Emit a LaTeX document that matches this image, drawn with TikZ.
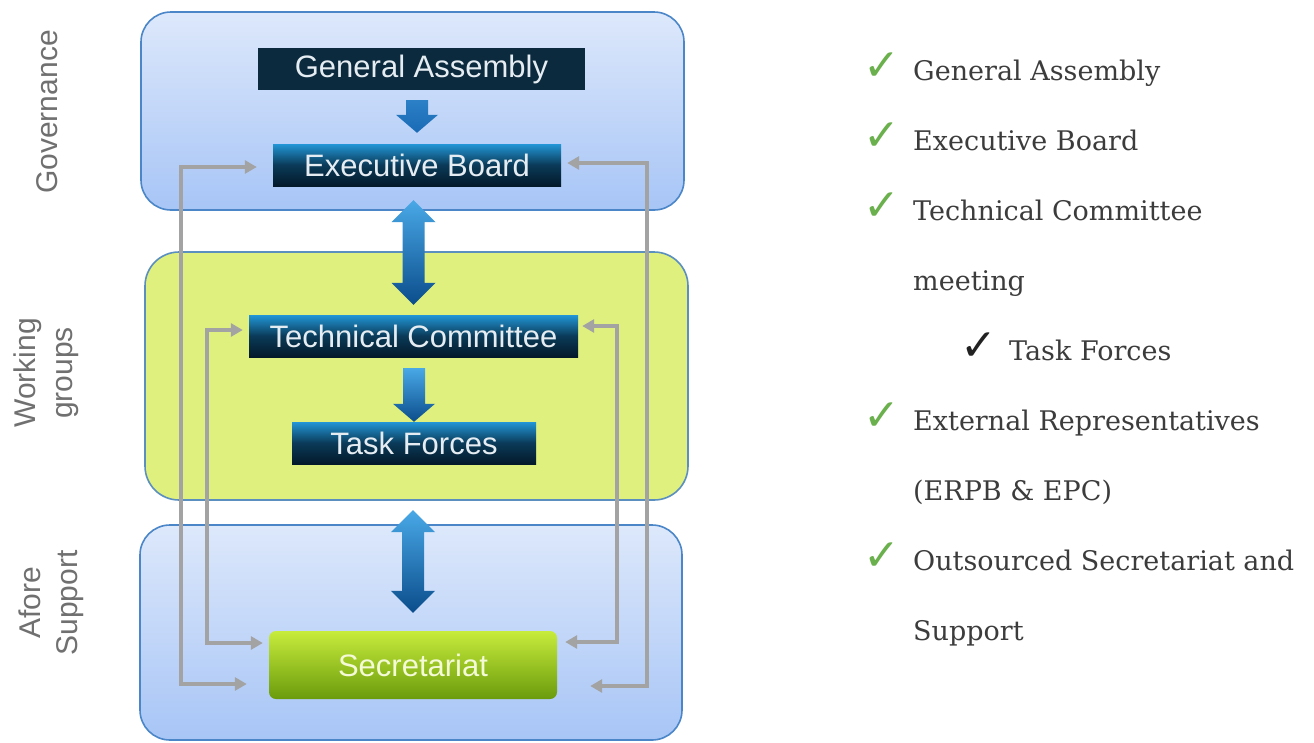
\documentclass[tikz,border=0pt]{standalone}
\usepackage{fontspec}
\newfontfamily\boxfont{Liberation Sans}
\newfontfamily\listfont{DejaVu Serif}
\newfontfamily\symfont{DejaVu Sans}
\usetikzlibrary{arrows.meta,calc}
\definecolor{govtop}{HTML}{DDE8FB}
\definecolor{govbot}{HTML}{A7C5F6}
\definecolor{secborder}{HTML}{4A86C8}
\definecolor{wgfill}{HTML}{DFF07F}
\definecolor{wgborder}{HTML}{5B8FC0}
\definecolor{gabox}{HTML}{0B2A3E}
\definecolor{ebtop}{HTML}{2296D6}
\definecolor{ebmid}{HTML}{0A3A58}
\definecolor{ebbot}{HTML}{04192A}
\definecolor{boxtext}{HTML}{E6EDF2}
\definecolor{sectop}{HTML}{C8EC3C}
\definecolor{secbot}{HTML}{6A9B0C}
\definecolor{sectext}{HTML}{F4FAD6}
\definecolor{conngray}{HTML}{A3A3A3}
\definecolor{lblgray}{HTML}{707070}
\definecolor{listgray}{HTML}{3C3C3C}
\definecolor{chkgreen}{HTML}{6AB04C}
\definecolor{chkdark}{HTML}{222222}
\definecolor{arrlight}{HTML}{49A8E6}
\definecolor{arrdark}{HTML}{0B4D8C}
\definecolor{arrmidA}{HTML}{2B80C6}
\definecolor{arrmidB}{HTML}{1A6AB5}

\newcommand{\dblblue}[6]{%
  \shade[top color=#5, bottom color=#6] let \p1=(#1), \p2=(#2) in
  (\x2,\y1-#3) -- (\x2+22pt,\y1-#3-22pt) -- (\x2+11pt,\y1-#3-22pt)
  -- (\x2+11pt,\y2+#4+22pt) -- (\x2+22pt,\y2+#4+22pt) -- (\x2,\y2+#4)
  -- (\x2-22pt,\y2+#4+22pt) -- (\x2-11pt,\y2+#4+22pt)
  -- (\x2-11pt,\y1-#3-22pt) -- (\x2-22pt,\y1-#3-22pt) -- cycle;}
\newcommand{\oneblue}[6]{%
  \shade[top color=#5, bottom color=#6] let \p1=(#1), \p2=(#2) in
  (\x2-11pt,\y1-#3) -- (\x2+11pt,\y1-#3) -- (\x2+11pt,\y2+#4+18pt)
  -- (\x2+21pt,\y2+#4+18pt) -- (\x2,\y2+#4) -- (\x2-21pt,\y2+#4+18pt)
  -- (\x2-11pt,\y2+#4+18pt) -- cycle;}

\tikzset{
  govbox/.style={draw=secborder, line width=1.6pt, inner sep=0pt,
    top color=govtop, bottom color=govbot, rounded corners=30pt},
  wgbox/.style={draw=wgborder, line width=1.6pt, inner sep=0pt,
    fill=wgfill, rounded corners=34pt},
  boxtxt/.style={inner sep=0pt, text=boxtext, font=\boxfont\fontsize{31}{36}\selectfont},
  gabox/.style={boxtxt, fill=gabox},
  bluebox/.style={boxtxt, top color=ebtop, bottom color=ebbot, middle color=ebmid},
  secnode/.style={inner sep=0pt, text=sectext, font=\boxfont\fontsize{31}{36}\selectfont,
    top color=sectop, bottom color=secbot, rounded corners=7pt},
  gconn/.style={draw=conngray, line width=3.6pt,
    {Triangle[length=12pt,width=13pt]}-{Triangle[length=12pt,width=13pt]}},
  lbl/.style={text=lblgray, font=\boxfont\fontsize{30}{37}\selectfont, align=center,
    rotate=90, inner sep=0pt},
  listtxt/.style={anchor=base west, text=listgray,
    font=\listfont\fontsize{27}{32}\selectfont, inner sep=0pt},
  chk/.style={anchor=base west, text=chkgreen,
    font=\symfont\fontsize{44}{48}\selectfont, inner sep=0pt},
}

\begin{document}
\begin{tikzpicture}[x=1pt,y=-1pt]
\fill[white] (0,0) rectangle (1314,742);
\useasboundingbox (0,0) rectangle (1314,742);

% section boxes
\node[govbox, minimum width=543pt, minimum height=198pt] (gov) at (412.5,111) {};
\node[wgbox, minimum width=543pt, minimum height=248pt] (wg) at (416.5,376) {};
\node[govbox, minimum width=542pt, minimum height=215pt] (afore) at (411,632.5) {};

% side labels
\node[lbl] (lgov) at (47,112) {Governance};
\node[lbl] (lwg) at (46,373) {Working\\groups};
\node[lbl] (laf) at (51,603) {Afore\\Support};

% boxes
\node[gabox, minimum width=327pt, minimum height=42pt] (ga) at (421.5,69) {General Assembly};
\node[bluebox, minimum width=288pt, minimum height=42pt] (eb) at (417,165) {Executive Board};
\node[bluebox, minimum width=329pt, minimum height=42pt] (tc) at (413.5,336) {Technical Committee};
\node[bluebox, minimum width=244pt, minimum height=42pt] (tf) at (414,443) {Task Forces};
\node[secnode, minimum width=288pt, minimum height=68pt] (sec) at (413,665) {Secretariat};

% blue arrows
\oneblue{ga.south}{eb.north}{10pt}{11pt}{arrmidA}{arrmidB}
\dblblue{eb.south}{tc.north}{14pt}{10pt}{arrlight}{arrdark}
\oneblue{tc.south}{tf.north}{11pt}{0pt}{arrlight}{arrdark}
\dblblue{tf.south}{sec.north}{46pt}{18pt}{arrlight}{arrdark}

% gray connectors
\draw[gconn] ([xshift=-16pt,yshift=-2pt]eb.west) -- ++(-76,0) |- ([xshift=-22pt,yshift=-19pt]sec.west);
\draw[gconn] ([xshift=-6pt,yshift=6pt]tc.west) -- ++(-36,0) |- ([xshift=-6pt,yshift=22pt]sec.west);
\draw[gconn] ([xshift=4pt,yshift=10pt]tc.east) -- ++(35,0) |- ([xshift=8pt,yshift=23pt]sec.east);
\draw[gconn] ([xshift=6pt,yshift=2pt]eb.east) -- ++(80,0) |- ([xshift=33pt,yshift=-21pt]sec.east);

% right-hand list
\node[chk] (c1) at (863,80) {✓};
\node[listtxt] (t1) at (913,80) {General Assembly};
\node[chk] (c2) at (863,150) {✓};
\node[listtxt] (t2) at (913,150) {Executive Board};
\node[chk] (c3) at (863,220) {✓};
\node[listtxt] (t3) at (913,220) {Technical Committee};
\node[listtxt] (t4) at (913,290) {meeting};
\node[chk, text=chkdark] (c5) at (960,360) {✓};
\node[listtxt] (t5) at (1009,360) {Task Forces};
\node[chk] (c6) at (863,430) {✓};
\node[listtxt] (t6) at (913,430) {External Representatives};
\node[listtxt] (t7) at (913,500) {(ERPB \& EPC)};
\node[chk] (c8) at (863,570) {✓};
\node[listtxt] (t8) at (913,570) {Outsourced Secretariat and};
\node[listtxt] (t9) at (913,640) {Support};
\end{tikzpicture}
\end{document}
